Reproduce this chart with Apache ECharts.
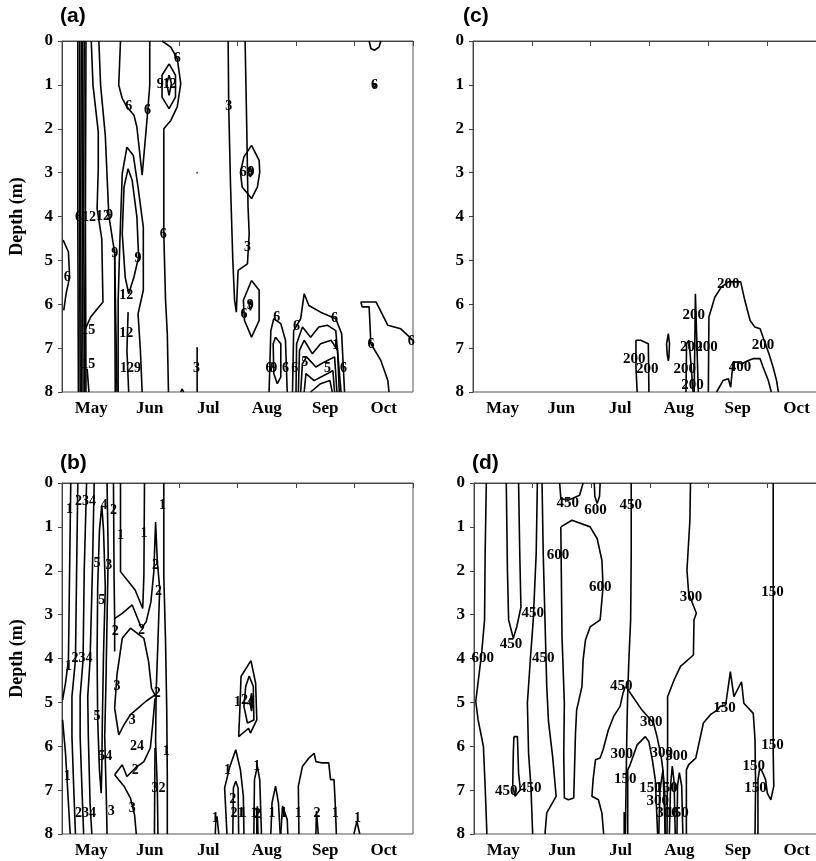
<!DOCTYPE html>
<html><head><meta charset="utf-8">
<script src="https://cdn.jsdelivr.net/npm/echarts@6/dist/echarts.min.js"></script>
<style>html,body{margin:0;padding:0;background:#fff}#c{width:816px;height:861px}</style>
</head><body><div id="c"></div>
<script>
// ---------- axis categories ----------
const months = ['May','Jun','Jul','Aug','Sep','Oct'];
const monthCenters = [0.5,1.5,2.5,3.5,4.5,5.5];
const monthEdges = [0,1,2,3,4,5,6];

// ---------- panel (a) contour lines: [month position, depth m] ----------
const aEdge = [[0.02,4.54],[0.11,4.81],[0.13,5.38],[0.07,5.76],[0.03,6.14]];
const aBand1 = [[0.27,0],[0.27,4],[0.28,8]];
const aBand2 = [[0.30,0],[0.30,4],[0.31,8]];
const aBand3 = [[0.33,0],[0.32,4],[0.33,8]];
const aBand4 = [[0.35,0],[0.35,4],[0.36,8]];
const aBand5 = [[0.38,0],[0.37,4],[0.39,8]];
const aBand6 = [[0.41,0],[0.40,4],[0.41,8]];
const aB = [[0.50,0],[0.53,1.01],[0.62,2.07],[0.62,2.91],[0.60,3.82],[0.68,4.51],[0.70,5.95],[0.49,6.29],[0.40,6.56]];
const aC = [[0.63,0],[0.66,1.01],[0.74,2.15],[0.80,3.97],[0.87,4.58],[0.90,4.81],[0.91,8]];
const aC2 = [[0.90,4.85],[0.94,8]];
const aSmall = [[0.43,7.47],[0.46,8]];
const aD = [[1.00,0],[0.97,1.01],[1.03,1.31],[1.11,1.50],[1.23,1.69],[1.28,1.96],[1.37,3.06],[1.43,2.15],[1.46,1.69],[1.50,1.01],[1.50,0]];
const aE = [[1.71,0],[1.86,0.14],[1.97,0.40],[2.03,0.97],[1.97,1.50],[1.86,1.81],[1.74,2.00],[1.74,4.39],[1.77,5.91],[1.80,6.67],[1.82,8]];
const aF1 = [[1.83,0.52],[1.94,0.78],[1.94,1.28],[1.83,1.54],[1.71,1.28],[1.71,0.78],[1.83,0.52]];
const aF2 = [[1.83,0.78],[1.87,0.97],[1.83,1.24],[1.79,0.97],[1.83,0.78]];
const aG1 = [[0.96,8],[0.96,5.91],[0.99,4.54],[1.03,3.02],[1.11,2.42],[1.22,2.61],[1.30,3.33],[1.39,4.24],[1.39,5.68],[1.30,6.22],[1.34,7.05],[1.37,8]];
const aG2 = [[1.13,2.91],[1.06,3.33],[1.03,4.39],[1.08,5.38],[1.14,5.76],[1.23,5.38],[1.31,4.92],[1.28,4.01],[1.20,3.18],[1.13,2.91]];
const aG3 = [[1.13,6.18],[1.11,7.05],[1.14,8]];
const aH = [[2.84,0],[2.85,1.50],[2.88,3.25],[2.92,5.00],[2.95,5.91],[2.98,6.18],[3.01,5.23],[3.17,5.08],[3.20,4.39],[3.18,3.78],[3.16,2.11],[3.13,0]];
const aI1 = [[3.24,2.38],[3.37,2.72],[3.38,2.99],[3.34,3.33],[3.24,3.59],[3.08,3.33],[3.05,2.99],[3.11,2.64],[3.24,2.38]];
const aI2 = [[3.22,2.87],[3.24,2.99],[3.22,3.10],[3.19,2.99],[3.22,2.87]];
const aJ1 = [[3.24,5.46],[3.37,5.68],[3.37,6.37],[3.24,6.75],[3.12,6.37],[3.10,5.91],[3.24,5.46]];
const aJ2 = [[3.22,5.91],[3.24,6.03],[3.22,6.14],[3.20,6.03],[3.22,5.91]];
const aK = [[2.31,6.98],[2.31,8]];
const aBump = [[2.03,8],[2.05,7.93],[2.08,8]];
const aDot = [[2.30,3.0],[2.32,3.0]];
const aS1 = [[3.54,8],[3.57,6.60],[3.62,6.33],[3.74,6.44],[3.82,6.82],[3.85,8]];
const aS2 = [[3.65,6.75],[3.74,6.90],[3.74,7.66],[3.68,7.81],[3.62,7.58],[3.61,6.90],[3.65,6.75]];
const aT1 = [[3.94,8],[3.96,6.60],[4.08,6.33],[4.14,5.76],[4.22,6.03],[4.42,6.18],[4.68,6.33],[4.78,6.67],[4.83,8]];
const aT2 = [[4.00,8],[4.01,6.90],[4.11,6.52],[4.25,6.75],[4.39,6.52],[4.54,6.48],[4.68,6.60],[4.77,8]];
const aT3 = [[4.04,8],[4.06,7.05],[4.14,6.82],[4.28,7.13],[4.42,6.90],[4.60,6.82],[4.71,7.05],[4.74,8]];
const aT4 = [[4.08,8],[4.11,7.36],[4.18,7.20],[4.34,7.43],[4.48,7.32],[4.66,7.20],[4.70,8]];
const aT5 = [[4.14,8],[4.17,7.58],[4.31,7.74],[4.54,7.58],[4.63,7.51],[4.66,8]];
const aT6 = [[4.25,8],[4.42,7.81],[4.58,7.74],[4.62,8]];
const aL = [[5.59,8],[5.57,7.74],[5.45,7.28],[5.28,6.90],[5.25,6.06],[5.13,6.06],[5.11,5.95],[5.37,5.95],[5.57,6.48],[5.79,6.56],[6.0,6.82]];
const aM = [[5.25,0],[5.28,0.17],[5.34,0.21],[5.42,0.14],[5.45,0]];
const aN = [[5.31,0.97],[5.34,0.93],[5.37,1.0],[5.34,1.07],[5.31,1.03],[5.31,0.97]];
const aLabels = [
  ['6',0.09,5.38],['6',0.28,4.01],['12',0.46,4.01],['12',0.70,4.0],['9',0.81,3.97],['9',0.90,4.85],
  ['15',0.45,6.6],['15',0.45,7.36],['6',1.14,1.50],['6',1.46,1.58],['6',1.97,0.40],['6',1.73,4.41],
  ['9',1.68,1.0],['12',1.84,1.0],['9',1.30,4.96],['12',1.10,5.80],['12',1.10,6.67],['129',1.17,7.47],
  ['3',2.85,1.50],['3',3.17,4.70],['3',2.30,7.47],['6',3.10,3.0],['9',3.23,3.0],['6',3.11,6.22],['9',3.22,6.03],
  ['6',3.67,6.31],['6',3.54,7.47],['9',3.62,7.47],['6',3.82,7.47],['6',4.01,6.5],['6',4.66,6.33],
  ['5',4.15,7.32],['5',4.54,7.47],['6',4.81,7.47],['6',3.98,7.47],['1',4.68,6.94],
  ['6',5.28,6.92],['6',5.97,6.85],['6',5.34,1.01]
];

// ---------- panel (b) ----------
const bL1a = [[0.15,0],[0.13,1.99],[0.11,4.03],[0.06,4.56],[0.01,4.94]];
const bL1b = [[0.01,5.40],[0.06,6.16],[0.11,7.30],[0.14,8]];
const bL2 = [[0.27,0],[0.25,1.99],[0.23,4.03],[0.17,4.87],[0.17,5.78],[0.21,7.30],[0.23,8]];
const bL3 = [[0.42,0],[0.38,1.99],[0.36,4.03],[0.31,4.87],[0.31,5.78],[0.35,7.30],[0.37,8]];
const bL4 = [[0.55,0],[0.52,1.99],[0.48,4.03],[0.44,4.87],[0.45,5.78],[0.48,7.30],[0.51,8]];
const bLens = [[0.68,0.51],[0.64,1.08],[0.61,2.37],[0.60,3.88],[0.61,5.40],[0.64,6.54],[0.67,7.07],[0.68,6.54],[0.69,5.40],[0.71,3.88],[0.74,2.37],[0.71,1.08],[0.68,0.51]];
const bL5 = [[0.77,0],[0.79,1.61],[0.77,3.12],[0.75,4.64],[0.73,5.78],[0.76,7.30],[0.77,8]];
const bP = [[0.88,0],[0.89,2.10],[0.90,3.09],[1.03,2.97],[1.20,2.78],[1.36,3.31],[1.44,3.16],[1.52,2.71],[1.57,2.02],[1.60,0.89],[1.63,1.80],[1.67,2.40],[1.64,3.62],[1.61,4.75],[1.60,5.89],[1.63,6.95],[1.64,8]];
const bSpike = [[0.90,3.09],[0.90,3.84]];
const bQ = [[0.90,5.13],[0.94,4.37],[1.03,3.54],[1.17,3.31],[1.40,3.54],[1.48,4.07],[1.53,4.68],[1.59,4.83],[1.43,4.98],[1.30,5.13],[1.17,5.28],[1.06,5.51],[0.97,5.74],[0.90,5.13]];
const bR = [[0.90,6.65],[1.03,6.42],[1.11,6.69],[1.25,6.50],[1.40,6.35],[1.51,6.04],[1.55,5.51],[1.59,4.91]];
const bS = [[0.90,6.65],[1.06,6.91],[1.17,7.18],[1.24,7.56],[1.27,8]];
const bU1 = [[1.00,0],[1.00,2.02],[1.25,2.44],[1.38,2.86],[1.40,2.10],[1.41,0]];
const bV = [[1.74,0],[1.74,2.10],[1.77,3.62],[1.79,5.13],[1.80,6.65],[1.80,8]];
const bW = [[1.59,6.04],[1.58,8]];
const bX1 = [[3.23,4.05],[3.31,4.56],[3.33,5.40],[3.22,5.70],[3.19,5.59],[3.02,5.78],[3.04,5.17],[3.06,4.41],[3.23,4.05]];
const bX2 = [[3.20,4.40],[3.27,4.64],[3.28,5.40],[3.17,5.47],[3.11,5.09],[3.14,4.64],[3.20,4.40]];
const bX3 = [[3.24,4.79],[3.26,5.0],[3.24,5.2],[3.21,5.0],[3.24,4.79]];
const bY1 = [[2.82,8],[2.78,6.95],[2.87,6.46],[2.97,6.08],[3.05,6.54],[3.10,7.14],[3.11,8]];
const bY2 = [[2.92,8],[2.93,6.95],[2.97,6.80],[3.01,6.95],[3.02,8]];
const bY3 = [[3.28,8],[3.29,6.76],[3.34,6.46],[3.38,6.76],[3.41,8]];
const bY4 = [[3.33,8],[3.33,7.44],[3.34,7.37],[3.35,8]];
const bY5 = [[3.57,8],[3.59,7.29],[3.65,6.91],[3.70,7.29],[3.73,8]];
const bY6 = [[3.74,8],[3.77,7.36],[3.80,7.32],[3.85,7.67],[3.86,8]];
const bY7 = [[4.05,8],[4.04,6.91],[4.11,6.46],[4.22,6.27],[4.31,6.16],[4.34,6.35],[4.45,6.38],[4.56,6.38],[4.59,6.76],[4.65,6.76],[4.67,7.29],[4.69,8]];
const bY8 = [[4.34,8],[4.35,7.48],[4.37,7.44],[4.38,8]];
const bY9 = [[2.62,8],[2.63,7.67],[2.65,7.60],[2.68,8]];
const bY10 = [[4.99,8],[5.04,7.71],[5.06,7.67],[5.09,8]];
const bLabels = [
  ['1',0.13,0.6],['234',0.40,0.43],['1',0.11,4.19],['234',0.34,4.0],['234',0.40,7.54],['1',0.09,6.69],
  ['5',0.60,1.83],['5',0.68,2.67],['5',0.60,5.32],['54',0.74,6.23],['4',0.72,0.51],['2',0.88,0.62],['3',0.80,1.87],
  ['2',1.60,1.87],['2',1.65,2.48],['2',1.36,3.35],['2',0.91,3.39],['3',0.94,4.64],['3',1.20,5.40],
  ['2',1.25,6.55],['24',1.28,6.0],['3',1.20,7.41],['3',0.84,7.48],['1',1.00,1.19],['1',1.40,1.15],
  ['1',1.72,0.51],['1',1.78,6.12],['32',1.65,6.95],['2',1.63,4.8],
  ['1',3.0,5.0],['2',3.12,4.95],['4',3.22,5.0],['1',2.83,6.54],['2',2.92,7.2],['21',3.0,7.52],['1',3.1,7.52],
  ['1',3.33,6.46],['1',3.28,7.52],['2',3.34,7.56],['1',3.59,7.52],['1',3.79,7.52],['1',4.04,7.52],
  ['1',4.67,7.52],['2',4.36,7.52],['1',2.62,7.64],['1',5.05,7.64]
];

// ---------- panel (c) ----------
const cA = [[2.79,8],[2.77,7.43],[2.77,6.82],[2.85,6.82],[2.98,6.90],[2.99,8]];
const cB = [[3.32,6.67],[3.34,6.90],[3.33,7.20],[3.32,7.29],[3.30,7.13],[3.29,6.90],[3.32,6.67]];
const cC = [[3.62,8],[3.63,6.90],[3.67,6.82],[3.71,7.43],[3.74,8]];
const cD = [[3.76,8],[3.78,5.76],[3.80,5.76],[3.83,8]];
const cE = [[4.00,8],[4.01,6.29],[4.11,5.84],[4.22,5.61],[4.34,5.49],[4.45,5.49],[4.55,5.49],[4.62,5.91],[4.71,6.37],[4.79,6.52],[4.88,6.56],[4.93,6.75],[5.03,7.13],[5.10,7.43],[5.16,7.74],[5.19,8]];
const cF = [[4.14,8],[4.25,7.74],[4.34,7.70],[4.38,7.89],[4.42,7.32],[4.51,7.32],[4.56,7.36],[4.68,7.28],[4.76,7.24],[4.88,7.24],[4.93,7.43],[5.02,7.74],[5.07,8]];
const cLabels = [
  ['200',2.74,7.24],['200',2.96,7.49],['200',3.75,6.25],['200',3.71,6.98],['200',3.97,6.98],
  ['200',3.60,7.49],['200',3.73,7.85],['200',4.34,5.53],['200',4.93,6.94],['400',4.54,7.43]
];

// ---------- panel (d) ----------
const d1 = [[0.21,0],[0.19,1.61],[0.18,3.12],[0.13,3.88],[0.03,4.98],[0.07,5.40],[0.16,6.00],[0.19,6.91],[0.22,8]];
const d2 = [[0.55,0],[0.57,1.99],[0.59,3.12],[0.67,3.54],[0.73,3.27],[0.80,2.83],[0.78,1.61],[0.76,0]];
const d3 = [[1.08,0],[1.06,1.61],[1.01,3.12],[0.96,4.03],[0.91,5.02],[0.93,6.16],[0.97,6.91],[1.00,8]];
const d4 = [[1.16,0],[1.18,1.61],[1.21,3.12],[1.24,4.64],[1.27,5.44],[1.34,6.23],[1.40,7.14],[1.24,7.52],[1.21,8]];
const d5 = [[1.48,1.0],[1.67,0.85],[1.98,1.0],[2.10,1.27],[2.18,1.76],[2.20,2.37],[2.15,3.12],[1.98,3.28],[1.90,3.58],[1.86,4.03],[1.84,4.64],[1.75,5.17],[1.73,5.70],[1.70,7.18],[1.61,7.22],[1.54,7.18],[1.53,6.16],[1.54,5.02],[1.50,3.50],[1.48,1.0]];
const d6 = [[1.46,0],[1.48,0.36],[1.61,0.39],[1.80,0.28],[1.86,0]];
const d7 = [[2.05,0],[2.06,0.3],[2.10,0.47],[2.14,0.3],[2.15,0]];
const d8 = [[2.68,0],[2.68,1.61],[2.67,3.12],[2.64,4.03],[2.62,4.79],[2.61,5.40],[2.60,6.16],[2.58,8]];
const d9 = [[2.21,8],[2.18,7.52],[2.12,7.22],[2.01,7.14],[2.03,6.76],[2.07,6.31],[2.15,6.27],[2.20,6.08],[2.29,5.63],[2.38,5.32],[2.49,5.09],[2.54,4.79],[2.58,4.64]];
const d10 = [[2.62,4.7],[2.86,5.17],[3.06,5.47],[3.12,5.78],[3.19,6.23],[3.22,6.54],[3.24,7.2],[3.26,8]];
const d11 = [[2.62,8],[2.62,6.54],[2.65,6.46],[2.78,5.97],[2.92,5.78],[2.98,5.89],[3.04,6.31],[3.09,6.76],[3.13,8]];
const d12 = [[2.56,7.5],[2.56,8]];
const d14 = [[3.69,0],[3.68,0.85],[3.63,1.99],[3.66,2.52],[3.79,2.97],[3.75,3.12],[3.74,3.92],[3.52,4.18],[3.41,4.49],[3.30,4.87],[3.30,6.16],[3.29,8]];
const d15 = [[3.62,8],[3.62,6.54],[3.66,6.42],[3.78,6.27],[3.91,5.47],[4.03,5.28],[4.15,5.17],[4.20,5.09],[4.29,5.06],[4.37,4.30],[4.43,4.87],[4.56,4.53],[4.60,5.02],[4.76,5.25],[4.79,5.85],[4.80,6.91],[4.79,8]];
const d16 = [[5.10,0],[5.10,3.0],[5.10,6.16],[5.11,6.91],[5.06,7.22],[5.00,7.07],[4.97,6.76],[4.91,6.57],[4.87,6.50],[4.84,6.76],[4.84,8]];
const d17 = [[3.15,8],[3.17,7.0],[3.22,6.55],[3.25,7.0],[3.26,8]];
const d18 = [[3.33,8],[3.35,6.9],[3.38,6.45],[3.41,6.8],[3.43,8]];
const d19 = [[3.46,8],[3.47,6.9],[3.50,6.6],[3.54,6.9],[3.56,8]];
const d20 = [[0.68,5.78],[0.74,5.78],[0.76,6.61],[0.79,6.99],[0.70,7.14],[0.66,6.91],[0.67,6.16],[0.68,5.78]];
const dLabels = [
  ['600',0.15,4.0],['450',0.63,3.67],['450',1.00,2.97],['450',1.18,4.0],['450',0.96,6.95],['450',0.55,7.03],
  ['600',1.43,1.65],['600',2.15,2.37],['450',1.60,0.47],['600',2.07,0.62],['450',2.67,0.51],['450',2.51,4.64],
  ['300',2.52,6.19],['300',3.02,5.44],['150',2.58,6.76],['150',3.01,6.95],['300',3.70,2.59],['150',4.27,5.13],
  ['150',5.09,2.48],['150',5.09,5.97],['150',4.77,6.46],['150',4.80,6.95],['300',3.20,6.15],['300',3.45,6.23],
  ['150',3.28,6.95],['300',3.13,7.26],['300',3.30,7.52],['150',3.47,7.52]
];

// ---------- assemble ----------
const panelLines = [
  [aEdge,aBand1,aBand2,aBand3,aBand4,aBand5,aBand6,aB,aC,aC2,aSmall,aD,aE,aF1,aF2,aG1,aG2,aG3,aH,aI1,aI2,aJ1,aJ2,aK,aBump,aDot,aS1,aS2,aT1,aT2,aT3,aT4,aT5,aT6,aL,aM,aN],
  [cA,cB,cC,cD,cE,cF],
  [bL1a,bL1b,bL2,bL3,bL4,bLens,bL5,bP,bSpike,bQ,bR,bS,bU1,bV,bW,bX1,bX2,bX3,bY1,bY2,bY3,bY4,bY5,bY6,bY7,bY8,bY9,bY10],
  [d1,d2,d3,d4,d5,d6,d7,d8,d9,d10,d11,d12,d14,d15,d16,d17,d18,d19,d20]
];
const panelLabels = [aLabels, cLabels, bLabels, dLabels];
const labelSizes = [14, 15, 14, 15];

const grids = [
  {left:62, top:41, width:351, height:351},
  {left:473, top:41, width:353, height:351},
  {left:62, top:483, width:351, height:351},
  {left:474, top:483, width:352, height:351}
];
const serif = '"Liberation Serif","Times New Roman",serif';

const xAxes = [], yAxes = [], series = [];
grids.forEach((g, i) => {
  xAxes.push({
    type:'value', gridIndex:i, min:0, max:6, interval:1,
    axisLine:{show:true, lineStyle:{color:'#444', width:1}},
    axisTick:{show:true, length:5, customValues:monthEdges, lineStyle:{color:'#444'}},
    axisLabel:{show:true, customValues:monthCenters, formatter:v => months[Math.round(v-0.5)] || '',
      fontFamily:serif, fontWeight:'bold', fontSize:17, color:'#000', margin:8},
    splitLine:{show:false}
  });
  const ya = {
    type:'value', gridIndex:i, inverse:true, min:0, max:8, interval:1,
    axisLine:{show:true, lineStyle:{color:'#444', width:1}},
    axisTick:{show:true, length:4, lineStyle:{color:'#444'}},
    axisLabel:{fontFamily:serif, fontWeight:'bold', fontSize:17, color:'#000', margin:9},
    splitLine:{show:false}
  };
  if (i === 0 || i === 2) {
    Object.assign(ya, {name:'Depth (m)', nameLocation:'middle', nameRotate:90, nameGap:36,
      nameTextStyle:{fontFamily:serif, fontWeight:'bold', fontSize:18, color:'#000'}});
  }
  yAxes.push(ya);
  panelLines[i].forEach(arr => series.push({
    type:'line', xAxisIndex:i, yAxisIndex:i, data:arr, symbol:'none', showSymbol:false,
    silent:true, animation:false, clip:true, lineStyle:{color:'#000', width:1.6}, z:2
  }));
  series.push({
    type:'scatter', xAxisIndex:i, yAxisIndex:i, symbolSize:1, silent:true, animation:false,
    itemStyle:{color:'rgba(0,0,0,0)', opacity:1},
    data: panelLabels[i].map(l => ({name:l[0], value:[l[1], l[2]]})),
    label:{show:true, position:'inside', formatter:p => p.name, fontFamily:serif, fontWeight:'bold',
      fontSize:labelSizes[i], color:'#000', opacity:1, textBorderWidth:0},
    labelLayout:{hideOverlap:false}, z:3
  });
});

const chart = echarts.init(document.getElementById('c'), null, {renderer:'canvas'});
chart.setOption({
  backgroundColor:'#fff',
  animation:false,
  grid: grids.map(g => Object.assign({show:true, borderColor:'#555', borderWidth:1, containLabel:false, outerBoundsMode:'none'}, g)),
  xAxis: xAxes,
  yAxis: yAxes,
  graphic: [
    {type:'text', left:60, top:6, style:{text:'(a)', font:'bold 21px "Liberation Sans", Arial, sans-serif', fill:'#000'}},
    {type:'text', left:463, top:6, style:{text:'(c)', font:'bold 21px "Liberation Sans", Arial, sans-serif', fill:'#000'}},
    {type:'text', left:60, top:453, style:{text:'(b)', font:'bold 21px "Liberation Sans", Arial, sans-serif', fill:'#000'}},
    {type:'text', left:472, top:453, style:{text:'(d)', font:'bold 21px "Liberation Sans", Arial, sans-serif', fill:'#000'}}
  ],
  series: series
});
</script>
</body></html>
